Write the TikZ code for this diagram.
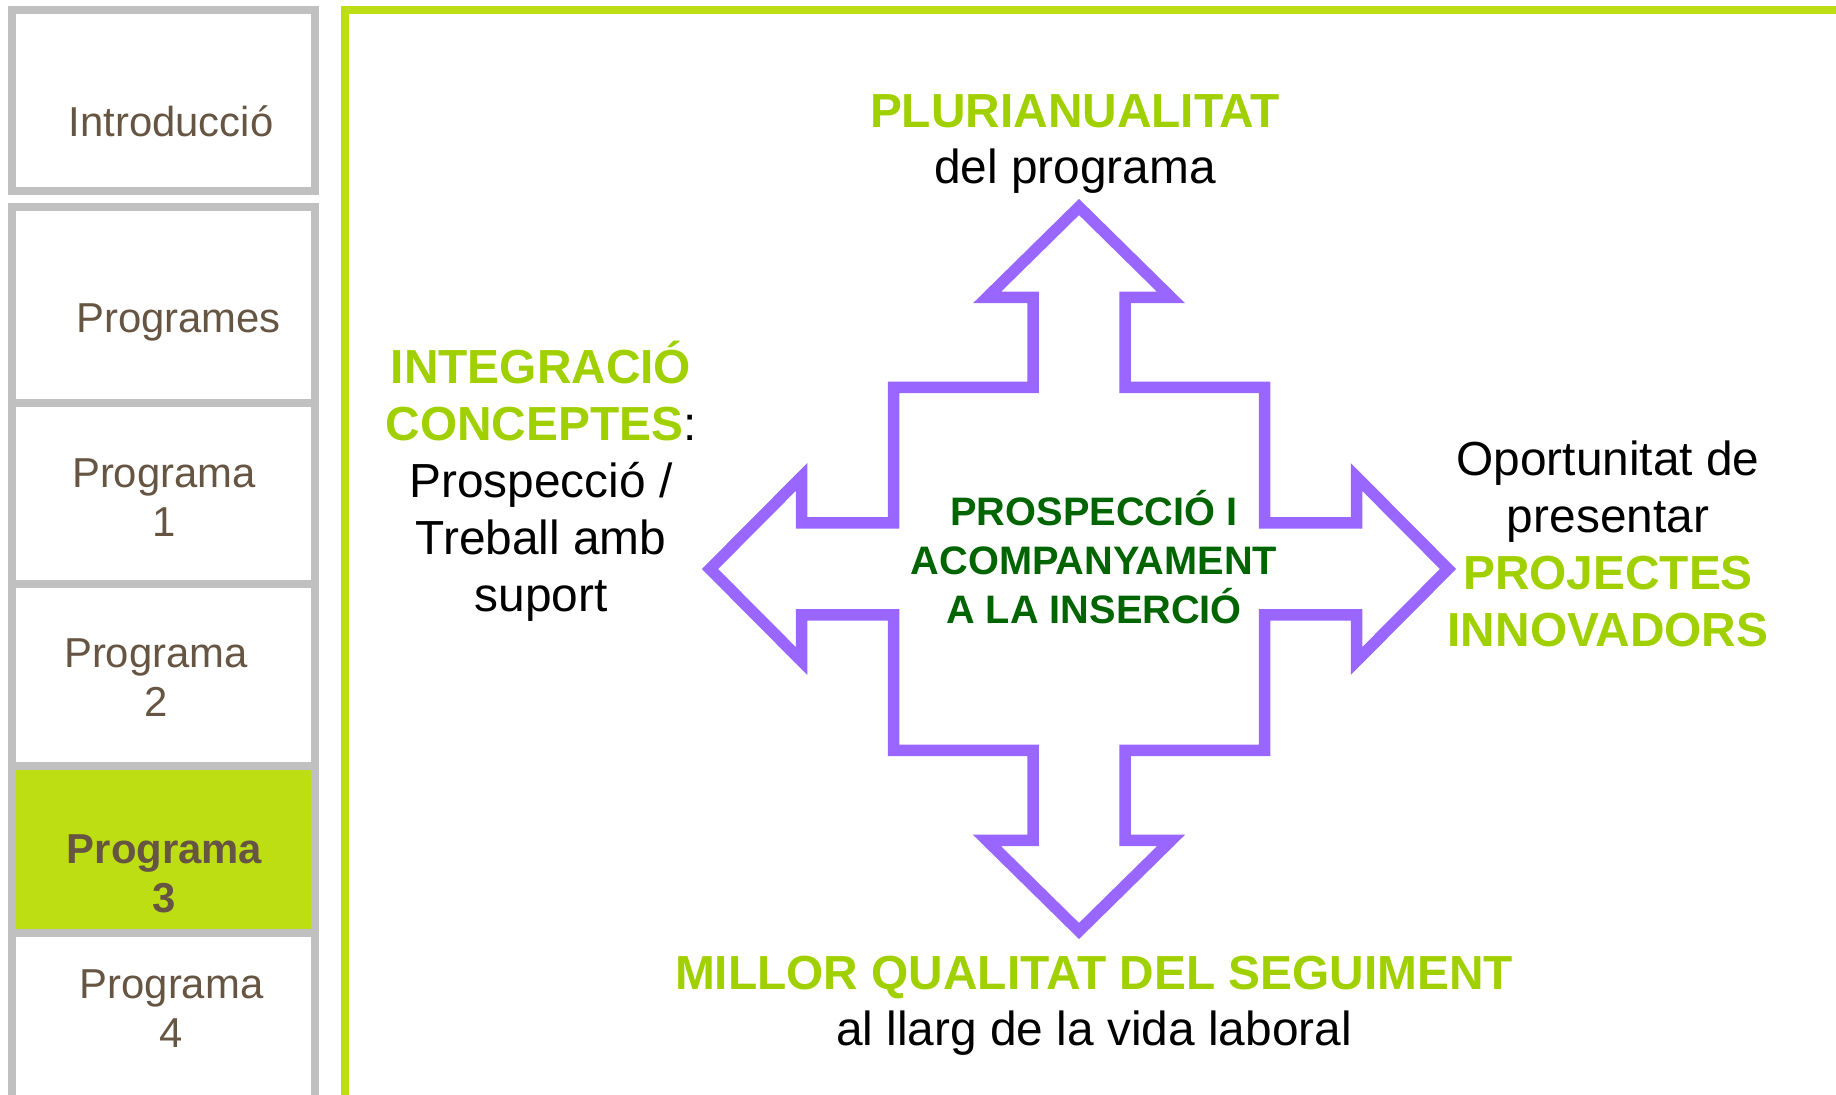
\documentclass[tikz,border=0pt]{standalone}
\usepackage{fontspec}
\setmainfont{Liberation Sans}
\usepackage{xcolor}
\usetikzlibrary{positioning}
\definecolor{lima}{RGB}{190,222,20}
\definecolor{limatext}{RGB}{160,208,0}
\definecolor{grisbox}{RGB}{192,192,192}
\definecolor{marro}{RGB}{102,85,66}
\definecolor{lila}{RGB}{153,102,255}
\definecolor{verdfosc}{RGB}{0,100,0}

\begin{document}
\begin{tikzpicture}[x=0.01cm,y=-0.01cm,
    menu/.style={draw=grisbox, line width=0.08cm, minimum width=3.03cm,
        inner sep=0pt, outer sep=0pt},
    menutext/.style={text=marro, font=\fontsize{11.9}{14.2}\selectfont,
        align=center, anchor=base, inner sep=0pt},
    bloc/.style={font=\fontsize{13.6}{16.2}\selectfont, align=center,
        anchor=base, inner sep=0pt}]
    \useasboundingbox (0,0) rectangle (1836,1095);
    \clip (0,0) rectangle (1836,1095);
    % Add the menu boxes
        \node[menu,
            minimum height=1.81cm
            ] (intro) at (163.5,100.5) {};
        \node[menu,
            minimum height=1.96cm,
            below=0.155cm of intro
            ] (progs) {};
        \node[menu,
            minimum height=1.815cm,
            below=0pt of progs
            ] (prog1) {};
        \node[menu,
            minimum height=1.82cm,
            below=0pt of prog1
            ] (prog2) {};
        \node[menu,
            minimum height=1.665cm,
            fill=lima,
            below=0pt of prog2
            ] (prog3) {};
        \node[menu,
            minimum height=1.7cm,
            below=0pt of prog3
            ] (prog4) {};
    % menu texts (base = last line)
        \node[menutext] (tintro) at (171,137) {Introducció};
        \node[menutext] (tprogs) at (178.5,333) {Programes};
        \node[menutext] (tprog1) at (164,537) {Programa\\1};
        \node[menutext] (tprog2) at (156,717) {Programa\\2};
        \node[menutext, font=\fontsize{11.9}{14.2}\selectfont\bfseries] (tprog3) at (164.5,913) {Programa\\3};
        \node[menutext] (tprog4) at (171.5,1048) {Programa\\4};
    % green frame
        \draw[lima, line width=0.08cm] (345,10) rectangle (1900,1150);
    % the cross of arrows
        \draw[lila, line width=0.115cm, line join=miter]
            (1079,207) -- (1171,297.5) -- (1125,297.5) -- (1125,387.5)
            -- (1264.5,387.5) -- (1264.5,523) -- (1356.5,523) -- (1356.5,477)
            -- (1448,569) -- (1356.5,661) -- (1356.5,615) -- (1264.5,615)
            -- (1264.5,750.5) -- (1125,750.5) -- (1125,840.5) -- (1171,840.5)
            -- (1079,931) -- (987,840.5) -- (1033,840.5) -- (1033,750.5)
            -- (893.5,750.5) -- (893.5,615) -- (801.5,615) -- (801.5,661)
            -- (710,569) -- (801.5,477) -- (801.5,523) -- (893.5,523)
            -- (893.5,387.5) -- (1033,387.5) -- (1033,297.5) -- (987,297.5)
            -- cycle;
    % texts round the cross
        \node[bloc] (dalt) at (1075,184)
            {{\color{limatext}\bfseries PLURIANUALITAT}\\del programa};
        \node[bloc] (esq) at (541,611.7)
            {{\color{limatext}\bfseries INTEGRACIÓ}\\{\color{limatext}\bfseries CONCEPTES}:\\Prospecció /\\Treball amb\\suport};
        \node[bloc] (dreta) at (1608,646.7)
            {Oportunitat de\\presentar\\{\color{limatext}\bfseries PROJECTES}\\{\color{limatext}\bfseries INNOVADORS}};
        \node[bloc] (baix) at (1094,1046)
            {{\color{limatext}\bfseries MILLOR QUALITAT DEL SEGUIMENT}\\al llarg de la vida laboral};
        \node[bloc, text=verdfosc, font=\fontsize{11.3}{14}\selectfont\bfseries] (centre) at (1094,624)
            {PROSPECCIÓ I\\ACOMPANYAMENT\\A LA INSERCIÓ};
\end{tikzpicture}
\end{document}
